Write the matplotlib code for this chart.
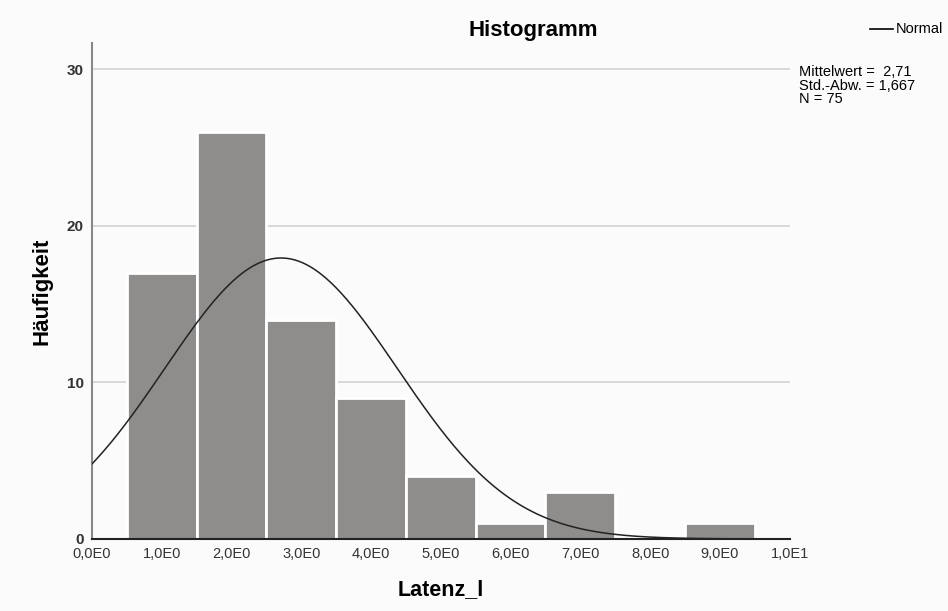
import numpy as np
import matplotlib
matplotlib.use("Agg")
import matplotlib.pyplot as plt

plt.rcParams['font.family'] = ['Liberation Sans', 'DejaVu Sans']

bin_centers = [1, 2, 3, 4, 5, 6, 7, 8, 9]
counts = [17, 26, 14, 9, 4, 1, 3, 0, 1]
mean = 2.71
sd = 1.667
n = 75
xticks = [0, 1, 2, 3, 4, 5, 6, 7, 8, 9, 10]
xtick_labels = ["0,0E0", "1,0E0", "2,0E0", "3,0E0", "4,0E0", "5,0E0",
                "6,0E0", "7,0E0", "8,0E0", "9,0E0", "1,0E1"]
yticks = [0, 10, 20, 30]

bg = "#fbfbfc"
fig = plt.figure(figsize=(9.48, 6.11), dpi=100, facecolor=bg)
ax = fig.add_axes([0.097, 0.118, 0.736, 0.812], facecolor=bg)

ax.set_xlim(0, 10)
ax.set_ylim(0, 31.7)
for yv in yticks[1:]:
    ax.axhline(yv, color="#d3d3d3", lw=1.2, zorder=0)

ax.bar(bin_centers, counts, width=1.0, color="#8e8d8b", edgecolor="white",
       linewidth=2, zorder=2)

xs = np.linspace(0, 10, 400)
ys = n * 1.0 / (sd * np.sqrt(2 * np.pi)) * np.exp(-0.5 * ((xs - mean) / sd) ** 2)
ax.plot(xs, ys, color="#222222", lw=1.1, zorder=3)

for s in ["top", "right"]:
    ax.spines[s].set_visible(False)
ax.spines["left"].set_color("#888888")
ax.spines["bottom"].set_color("#222222")
ax.spines["left"].set_linewidth(1.5)
ax.spines["bottom"].set_linewidth(1.5)

ax.set_xticks(xticks)
ax.set_xticklabels(xtick_labels, fontsize=10.5, color="#333333")
ax.set_yticks(yticks)
ax.set_yticklabels([str(v) for v in yticks], fontsize=11, fontweight="bold", color="#333333")
ax.tick_params(axis="both", length=0, pad=6)

ax.set_xlabel("Latenz_l", fontsize=15.5, fontweight="bold", labelpad=13)
ax.set_ylabel("Häufigkeit", fontsize=16, fontweight="bold", labelpad=10)
fig.text(0.563, 0.95, "Histogramm", ha="center", va="center", fontsize=16, fontweight="bold")

# legend
fig.lines.append(plt.Line2D([0.918, 0.942], [0.953, 0.953], color="black", lw=1.2, transform=fig.transFigure))
fig.text(0.945, 0.953, "Normal", ha="left", va="center", fontsize=10.5)
fig.text(0.843, 0.893, "Mittelwert =  2,71\nStd.-Abw. = 1,667\nN = 75", ha="left", va="top",
         fontsize=10.5, linespacing=0.95)

fig.savefig("out.png", dpi=100, facecolor=bg)
